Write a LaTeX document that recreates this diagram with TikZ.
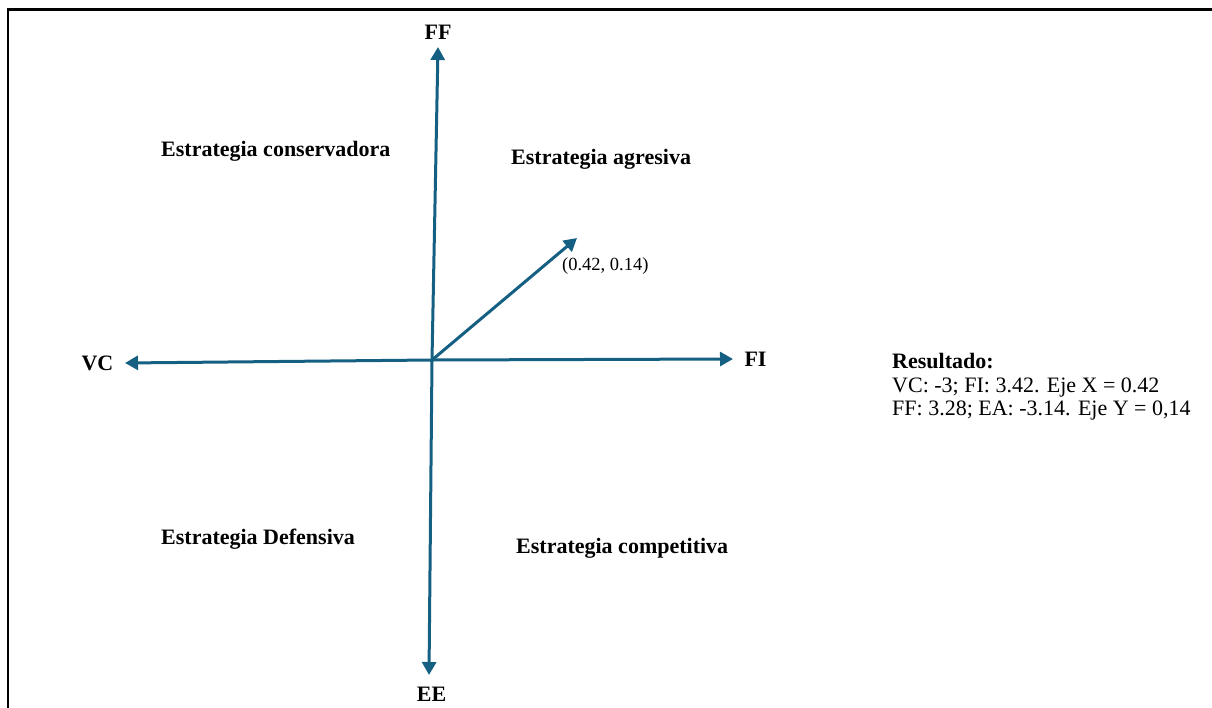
\documentclass[tikz,border=0pt]{standalone}
\usepackage{fontspec}
\setmainfont{Liberation Serif}
\usetikzlibrary{arrows.meta}
\definecolor{axiscol}{HTML}{156082}
\begin{document}
\begin{tikzpicture}[x=1pt,y=-1pt,
  axarrow/.style={draw=axiscol, line width=3pt, -{Triangle[length=13pt,width=14pt]}},
  axlabel/.style={font=\fontsize{22}{26}\selectfont\bfseries, inner sep=0pt},
  quadlabel/.style={font=\fontsize{22}{26}\selectfont\bfseries, inner sep=0pt, anchor=base west},
  ptlabel/.style={font=\fontsize{18.5}{22}\selectfont, inner sep=0pt, anchor=west},
  resbold/.style={font=\fontsize{22}{26}\selectfont\bfseries, inner sep=0pt, anchor=base west},
  resline/.style={font=\fontsize{22}{26}\selectfont, inner sep=0pt, anchor=base west},
  frameline/.style={draw=black, line width=2.5pt}
]
\useasboundingbox (0,0) rectangle (1212,707);
% frame
\draw[frameline] (8,730) -- (8,9.5) -- (1240,9.5);
% coordinates
\coordinate (o) at (432,360);
\coordinate (fftip) at (438,47);
\coordinate (eetip) at (429,675);
\coordinate (vctip) at (125,363);
\coordinate (fitip) at (733,359);
\coordinate (pttip) at (577,238);
% axes
\draw[axarrow] (o) -- (fftip);
\draw[axarrow] (o) -- (eetip);
\draw[axarrow] (o) -- (vctip);
\draw[axarrow] (o) -- (fitip);
\draw[axarrow] (o) -- (pttip);
% axis labels
\node[axlabel] (ff) at (438,32) {FF};
\node[axlabel] (ee) at (431.5,694) {EE};
\node[axlabel] (vc) at (97.5,363.5) {VC};
\node[axlabel] (fi) at (755.5,359.5) {FI};
% quadrant labels
\node[quadlabel] (q1) at (161,156) {Estrategia conservadora};
\node[quadlabel] (q2) at (511,164) {Estrategia agresiva};
\node[quadlabel] (q3) at (161,544) {Estrategia Defensiva};
\node[quadlabel] (q4) at (516,553) {Estrategia competitiva};
% point label
\node[ptlabel] (pt) at (562,266) {(0.42, 0.14)};
% result
\node[resbold] (r1) at (892,368) {Resultado:};
\node[resline] (r2) at (892,392) {VC: -3; FI: 3.42. Eje X = 0.42};
\node[resline] (r3) at (892,415) {FF: 3.28; EA: -3.14. Eje Y = 0,14};
\end{tikzpicture}
\end{document}
